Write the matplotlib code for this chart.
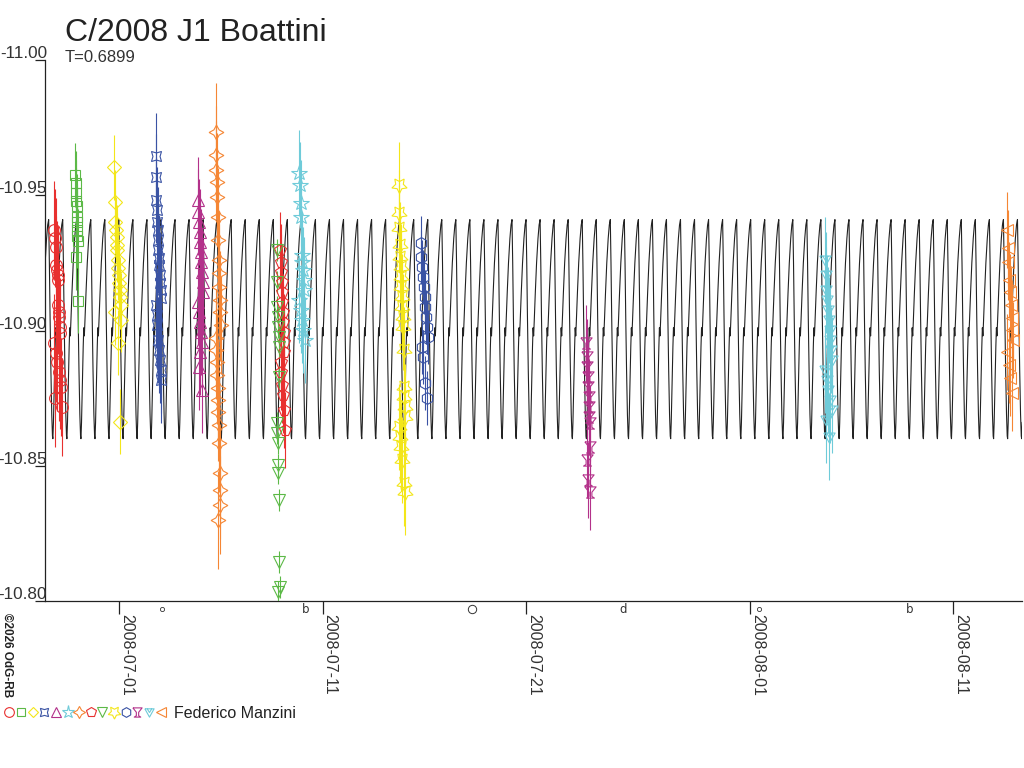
#!/usr/bin/env python3
"""C/2008 J1 Boattini - light curve with periodic model, T=0.6899 d"""
import numpy as np
import matplotlib
matplotlib.use('Agg')
import matplotlib.pyplot as plt
import matplotlib.dates as mdates
import matplotlib.transforms as mtransforms
from matplotlib.path import Path
from matplotlib.lines import Line2D
from matplotlib.legend_handler import HandlerTuple
from datetime import datetime

plt.rcParams.update({
    'font.family': ['Liberation Sans', 'DejaVu Sans'],
    'font.size': 11,
})

T0 = mdates.date2num(datetime(2008, 7, 1))   # times below are days after 2008-07-01

# periodic model (one cycle, phase from a maximum)
PERIOD = 0.6899
EPOCH = 24.83
MODEL_PHASE = [0.00, 0.05, 0.10, 0.16, 0.22, 0.27, 0.30, 0.34, 0.40, 0.46,
               0.50, 0.54, 0.58, 0.66, 0.75, 0.85, 0.93]
MODEL_MAG = [-10.941, -10.925, -10.905, -10.885, -10.869, -10.861, -10.860,
             -10.866, -10.880, -10.894, -10.901, -10.898, -10.903, -10.914,
             -10.925, -10.934, -10.939]

# observing sessions (Federico Manzini)
CIRCLE_T = [-3.20, -3.15, -3.12, -3.08, -3.05, -3.02, -3.00, -2.98, -2.95, -2.93,
            -2.90, -2.88, -3.18, -3.10, -3.04, -2.97, -2.92, -2.86, -3.14, -2.82]
CIRCLE_MAG = [-10.9372, -10.9342, -10.9309, -10.9242, -10.9224, -10.9205, -10.9187,
              -10.9094, -10.9068, -10.9050, -10.9013, -10.8991, -10.8954, -10.8917,
              -10.8884, -10.8847, -10.8817, -10.8791, -10.8750, -10.8717]

SQUARE_T = [-2.14, -2.12, -2.10, -2.09, -2.08, -2.07, -2.06, -2.05, -2.04, -2.03, -2.11, -2.02]
SQUARE_MAG = [-10.9575, -10.9545, -10.9510, -10.9480, -10.9460, -10.9420, -10.9400,
              -10.9370, -10.9350, -10.9330, -10.9270, -10.9110]

DIAMOND_T = [-0.25, -0.20, -0.18, -0.15, -0.12, -0.10, -0.08, -0.05, -0.03, 0.00,
             0.02, 0.05, 0.07, 0.10, -0.22, 0.12, -0.06, 0.03]
DIAMOND_MAG = [-10.9604, -10.9475, -10.9401, -10.9372, -10.9345, -10.9316, -10.9298,
               -10.9261, -10.9231, -10.9205, -10.9176, -10.9150, -10.9124, -10.9094,
               -10.9068, -10.9039, -10.8954, -10.8662]

XSTAR_T = [1.80, 1.82, 1.84, 1.86, 1.88, 1.90, 1.92, 1.94, 1.96, 1.98, 2.00,
           2.02, 2.04, 2.06, 1.81, 1.85, 1.89, 1.93, 1.97, 2.01, 2.05, 2.08]
XSTAR_MAG = [-10.9645, -10.9567, -10.9482, -10.9445, -10.9401, -10.9372, -10.9335,
             -10.9298, -10.9268, -10.9242, -10.9205, -10.9176, -10.9150, -10.9120,
             -10.9094, -10.9057, -10.9020, -10.8965, -10.8928, -10.8891, -10.8854, -10.8817]

TRIANGLE_T = [3.86, 3.90, 3.93, 3.96, 3.99, 4.02, 4.05, 4.08, 4.11, 4.14,
              3.88, 3.92, 3.98, 4.04, 4.10, 4.00, 3.95, 4.07]
TRIANGLE_MAG = [-10.9482, -10.9438, -10.9401, -10.9364, -10.9327, -10.9290, -10.9253,
                -10.9216, -10.9179, -10.9142, -10.9105, -10.9068, -10.9031, -10.8994,
                -10.8957, -10.8920, -10.8865, -10.8780]

STAR_T = [8.84, 8.88, 8.92, 8.95, 8.98, 9.01, 9.04, 9.07, 9.10, 8.86, 8.93, 9.00, 9.06, 9.12]
STAR_MAG = [-10.9582, -10.9538, -10.9471, -10.9420, -10.9279, -10.9253, -10.9224,
            -10.9187, -10.9150, -10.9113, -10.9076, -10.9039, -10.9002, -10.8965]

SPARK_T = [4.75, 4.77, 4.79, 4.81, 4.83, 4.85, 4.87, 4.89, 4.91, 4.93, 4.95, 4.97, 4.99,
           4.76, 4.78, 4.80, 4.82, 4.84, 4.86, 4.88, 4.90, 4.92, 4.94, 4.96, 4.98, 4.85]
SPARK_MAG = [-10.9734, -10.9649, -10.9593, -10.9549, -10.9493, -10.9419, -10.9335,
             -10.9261, -10.9212, -10.9161, -10.9113, -10.9068, -10.9020, -10.8972,
             -10.8928, -10.8884, -10.8835, -10.8787, -10.8743, -10.8699, -10.8651,
             -10.8584, -10.8473, -10.8410, -10.8355, -10.8300]

PENTAGON_T = [7.93, 7.95, 7.97, 7.99, 8.01, 8.03, 8.05, 8.07, 8.09, 8.11, 8.13,
              7.94, 7.98, 8.02, 8.06, 8.10, 8.14]
PENTAGON_MAG = [-10.9298, -10.9253, -10.9216, -10.9179, -10.9142, -10.9105, -10.9068,
                -10.9031, -10.8994, -10.8957, -10.8920, -10.8884, -10.8847, -10.8798,
                -10.8761, -10.8706, -10.8632]

DOWNTRI_T = [7.74, 7.76, 7.78, 7.80, 7.82, 7.84, 7.86, 7.88, 7.75, 7.77, 7.79,
             7.81, 7.83, 7.85, 7.87, 7.89, 7.80]
DOWNTRI_MAG = [-10.9298, -10.9179, -10.9087, -10.9050, -10.9013, -10.8976, -10.8939,
               -10.8828, -10.8658, -10.8621, -10.8584, -10.8503, -10.8473, -10.8373,
               -10.8144, -10.8052, -10.8033]

INVSTAR_T = [13.74, 13.76, 13.78, 13.80, 13.82, 13.84, 13.86, 13.88, 13.90, 13.92, 13.94,
             13.96, 13.98, 14.00, 14.02, 14.04, 14.06, 13.75, 13.81, 13.87, 13.93, 13.99, 14.05]
INVSTAR_MAG = [-10.9538, -10.9434, -10.9379, -10.9316, -10.9271, -10.9234, -10.9197,
               -10.9160, -10.9124, -10.9087, -10.9050, -10.9013, -10.8928, -10.8791,
               -10.8754, -10.8717, -10.8680, -10.8643, -10.8606, -10.8569, -10.8521,
               -10.8436, -10.8403]

HEXAGON_T = [14.82, 14.86, 14.90, 14.94, 14.98, 15.02, 15.06, 15.10, 15.14, 15.18,
             14.88, 14.96, 15.04, 15.12]
HEXAGON_MAG = [-10.9323, -10.9271, -10.9234, -10.9197, -10.9160, -10.9124, -10.9087,
               -10.9050, -10.9013, -10.8976, -10.8939, -10.8902, -10.8806, -10.8750]

GOBLET_T = [22.97, 22.99, 23.01, 23.03, 23.05, 23.07, 23.09, 23.11, 23.13, 23.15,
            23.00, 23.06, 23.12]
GOBLET_MAG = [-10.8954, -10.8902, -10.8865, -10.8828, -10.8791, -10.8754, -10.8717,
              -10.8680, -10.8658, -10.8569, -10.8521, -10.8447, -10.8403]

TRIW_T = [34.68, 34.72, 34.76, 34.80, 34.84, 34.88, 34.92, 34.96, 35.00, 35.04,
          34.70, 34.78, 34.86, 34.94, 35.02, 34.74, 34.90]
TRIW_MAG = [-10.9261, -10.9205, -10.9150, -10.9113, -10.9076, -10.9039, -10.9002,
            -10.8965, -10.8928, -10.8891, -10.8854, -10.8817, -10.8780, -10.8743,
            -10.8706, -10.8669, -10.8606]

LEFTTRI_T = [43.62, 43.66, 43.70, 43.74, 43.78, 43.82, 43.86, 43.90, 43.94,
             43.64, 43.72, 43.80, 43.88]
LEFTTRI_MAG = [-10.9372, -10.9305, -10.9253, -10.9187, -10.9142, -10.9094, -10.9046,
               -10.9002, -10.8965, -10.8920, -10.8872, -10.8824, -10.8769]

# moon phases (days after 2008-07-01)
MOON_T = [2.10, 9.19, 17.33, 24.78, 31.43, 38.86]
MOON_SYM = ['new', 'first', 'full', 'last', 'new', 'first']

TICK_DATES = [datetime(2008, 7, 1), datetime(2008, 7, 11), datetime(2008, 7, 21),
              datetime(2008, 8, 1), datetime(2008, 8, 11)]
Y_TICKS = [-11.00, -10.95, -10.90, -10.85, -10.80]

# custom markers
GOBLET = Path([(-1, 1), (1, 1), (0.25, 0.05), (0.25, -0.7), (0.7, -1), (-0.7, -1),
               (-0.25, -0.7), (-0.25, 0.05), (-1, 1)])
TRIW = Path([(-1, 0.8), (1, 0.8), (0, -1), (-1, 0.8), (-0.5, 0.8), (0, 0), (0.5, 0.8)],
            [Path.MOVETO, Path.LINETO, Path.LINETO, Path.LINETO,
             Path.MOVETO, Path.LINETO, Path.LINETO])

RED, GREEN, YELLOW = '#e8302f', '#5cb947', '#f3e61a'
BLUE, MAGENTA, CYAN, ORANGE = '#3a53a4', '#b3318a', '#6fcbd9', '#f58634'

# legend order: times, mags, error, colour, marker, marker size scale
SESSIONS = [
    (CIRCLE_T, CIRCLE_MAG, 0.018, RED, 'o', 1.0),
    (SQUARE_T, SQUARE_MAG, 0.012, GREEN, 's', 0.9),
    (DIAMOND_T, DIAMOND_MAG, 0.012, YELLOW, 'D', 0.8),
    (XSTAR_T, XSTAR_MAG, 0.016, BLUE, (4, 1, 45), 1.2),
    (TRIANGLE_T, TRIANGLE_MAG, 0.016, MAGENTA, '^', 1.05),
    (STAR_T, STAR_MAG, 0.016, CYAN, '*', 1.35),
    (SPARK_T, SPARK_MAG, 0.018, ORANGE, (4, 1, 0), 1.25),
    (PENTAGON_T, PENTAGON_MAG, 0.014, RED, 'p', 1.0),
    (DOWNTRI_T, DOWNTRI_MAG, 0.004, GREEN, 'v', 1.05),
    (INVSTAR_T, INVSTAR_MAG, 0.016, YELLOW, (5, 1, 180), 1.35),
    (HEXAGON_T, HEXAGON_MAG, 0.010, BLUE, 'h', 1.0),
    (GOBLET_T, GOBLET_MAG, 0.014, MAGENTA, GOBLET, 0.95),
    (TRIW_T, TRIW_MAG, 0.016, CYAN, TRIW, 0.95),
    (LEFTTRI_T, LEFTTRI_MAG, 0.014, ORANGE, '<', 1.05),
]

fig = plt.figure(figsize=(10.24, 7.68), dpi=100)
ax = fig.add_axes([45 / 1024, 1 - 601 / 768, 977 / 1024, 541 / 768])

# model curve, repeated every period
cycles = np.arange(-42, 30)
t_model = (EPOCH + (cycles[:, None] + np.array(MODEL_PHASE)[None, :]) * PERIOD).ravel()
m_model = np.tile(MODEL_MAG, len(cycles))
ax.plot(T0 + t_model, m_model, color='#222222', lw=0.8, zorder=2)

# observations
for t, mag, err, col, mk, sc in SESSIONS:
    ax.errorbar(T0 + np.array(t), mag, yerr=err, fmt='none', ecolor=col,
                elinewidth=0.8, capsize=0, zorder=3)
    ax.plot(T0 + np.array(t), mag, linestyle='none', marker=mk, ms=8.5 * sc,
            mfc='none', mec=col, mew=0.8, zorder=4)

ax.set_xlim(T0 - 3.636, T0 + 44.37)
ax.set_ylim(-10.80, -11.00)

for s in ['top', 'right']:
    ax.spines[s].set_visible(False)
for s in ['left', 'bottom']:
    ax.spines[s].set_linewidth(0.9)
    ax.spines[s].set_color('#222222')

# y ticks: the label sits on top of the tick
ax.set_yticks(Y_TICKS)
ax.tick_params(axis='y', length=7.2, width=0.9, color='#222222', labelleft=False)
for v in Y_TICKS:
    ax.annotate(f'{v:.2f}', xy=(0, v), xycoords=('axes fraction', 'data'),
                xytext=(2, 2), textcoords='offset pixels', ha='right',
                va='baseline', fontsize=12.3, color='#333333', annotation_clip=False)

# x ticks, rotated dates
ax.set_xticks([mdates.date2num(d) for d in TICK_DATES])
ax.xaxis.set_major_formatter(mdates.DateFormatter('%Y-%m-%d'))
ax.tick_params(axis='x', length=9.4, width=0.9, color='#222222', pad=0,
               labelsize=11.5, labelcolor='#333333')
for lab in ax.get_xticklabels():
    lab.set_rotation(-90)
    lab.set_ha('left')

# moon phase symbols just below the axis
trans = mtransforms.blended_transform_factory(ax.transData, ax.transAxes)
for t, sym in zip(MOON_T, MOON_SYM):
    if sym == 'new':
        ax.plot(T0 + t, -0.015, 'o', ms=3, mfc='none', mec='#333333', mew=0.6,
                transform=trans, clip_on=False)
    elif sym == 'full':
        ax.plot(T0 + t, -0.015, 'o', ms=6, mfc='none', mec='#333333', mew=0.7,
                transform=trans, clip_on=False)
    else:
        ax.text(T0 + t, -0.015, 'b' if sym == 'first' else 'd', transform=trans,
                ha='center', va='center', fontsize=8.5, color='#333333',
                family='DejaVu Sans')

# titles
fig.text(65 / 1024, 1 - 18 / 768, 'C/2008 J1 Boattini', fontsize=23,
         color='#222222', va='top', ha='left')
fig.text(65 / 1024, 1 - 50 / 768, 'T=0.6899', fontsize=12,
         color='#333333', va='top', ha='left')
fig.text(1 / 1024, 1 - 613 / 768, '©2026 OdG-RB', rotation=-90, fontsize=8.5,
         fontweight='bold', color='#222222', va='top', ha='left')

# legend: all symbols of the observer in one entry
handles = tuple(Line2D([], [], linestyle='none', marker=mk, ms=7 * sc, mfc='none',
                       mec=col, mew=0.8) for _, _, _, col, mk, sc in SESSIONS)
fig.legend([handles], ['Federico Manzini'],
           handler_map={tuple: HandlerTuple(ndivide=None, pad=0)},
           loc='center left', bbox_to_anchor=(3.5 / 1024, 1 - 713 / 768),
           bbox_transform=fig.transFigure, frameon=False, fontsize=11.5,
           handlelength=10.2, handletextpad=0.45, borderpad=0, borderaxespad=0,
           labelcolor='#222222')

plt.savefig('out.png', dpi=100)
